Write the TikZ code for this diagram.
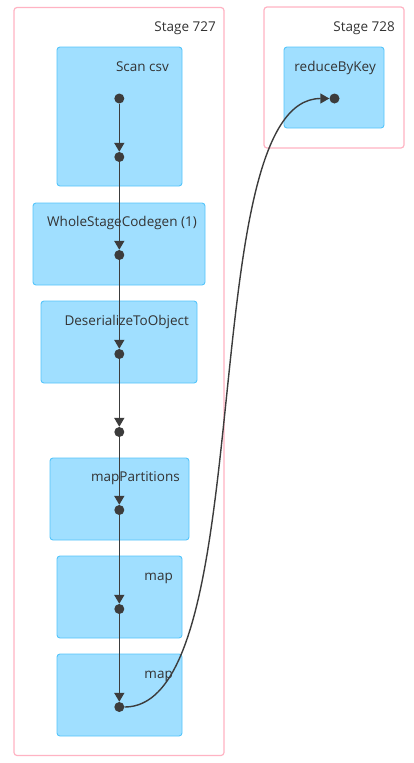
\documentclass[tikz,border=0pt]{standalone}
\usepackage{fontspec}
\setmainfont{Open Sans}
\usepackage{tikz}
\usetikzlibrary{arrows.meta}
\definecolor{stagepink}{HTML}{FFB3C3}
\definecolor{opfill}{HTML}{A0DFFF}
\definecolor{opline}{HTML}{55C5FB}
\definecolor{flowgray}{HTML}{3C3C3C}
\definecolor{labelgray}{HTML}{333333}

\begin{document}
\begin{tikzpicture}[x=1pt, y=-1pt,
    stage/.style={draw=stagepink, line width=1.2pt, rounded corners=3pt, fill=white, inner sep=0pt, outer sep=0pt},
    opbox/.style={draw=opline, fill=opfill, line width=0.9pt, rounded corners=3pt, inner sep=0pt, outer sep=0pt},
    lbl/.style={font=\fontsize{13.5}{15}\selectfont, text=labelgray, inner sep=0pt, anchor=base east},
    pt/.style={circle, fill=flowgray, minimum size=10pt, inner sep=0pt},
    flow/.style={draw=flowgray, line width=1.6pt, -{Triangle[length=9pt, width=10pt]}}
  ]
      \useasboundingbox (0,0) rectangle (413,763);

      % stages
      \node[stage, minimum width=210pt, minimum height=748pt] (stage727) at (119,381.5) {};
      \node[stage, minimum width=140pt, minimum height=141pt] (stage728) at (334,77.5) {};
      \node[lbl] (stage727lbl) at (216,31) {Stage 727};
      \node[lbl] (stage728lbl) at (395,31) {Stage 728};

      % operators
      \node[opbox, minimum width=125pt, minimum height=139pt] (scancsv) at (119.5,116.5) {};
      \node[opbox, minimum width=100pt, minimum height=81pt] (reducebykey) at (334,87.5) {};
      \node[opbox, minimum width=172pt, minimum height=82pt] (wscg) at (119,244) {};
      \node[opbox, minimum width=156pt, minimum height=82pt] (deser) at (119,342) {};
      \node[opbox, minimum width=139pt, minimum height=82pt] (mappart) at (119.5,499) {};
      \node[opbox, minimum width=125pt, minimum height=82pt] (mapa) at (119.5,597) {};
      \node[opbox, minimum width=125pt, minimum height=82pt] (mapb) at (119.5,695) {};

      \node[lbl] (scancsvlbl) at (169,71) {Scan csv};
      \node[lbl] (reducebykeylbl) at (376,71) {reduceByKey};
      \node[lbl] (wscglbl) at (197,226) {WholeStageCodegen (1)};
      \node[lbl] (deserlbl) at (189,325) {DeserializeToObject};
      \node[lbl] (mappartlbl) at (180,481) {mapPartitions};
      \node[lbl] (mapalbl) at (173,580) {map};
      \node[lbl] (mapblbl) at (173,678) {map};

      % points
      \node[pt] (p1) at (119.3,98.5) {};
      \node[pt] (p2) at (119.3,157) {};
      \node[pt] (p3) at (119.3,255) {};
      \node[pt] (p4) at (119.3,354) {};
      \node[pt] (p5) at (119.3,432) {};
      \node[pt] (p6) at (119.3,510) {};
      \node[pt] (p7) at (119.3,609) {};
      \node[pt] (p8) at (119.3,707) {};
      \node[pt] (pr) at (334.5,98.5) {};

      \draw[flow] (p1) -- (p2);
      \draw[flow] (p2) -- (p3);
      \draw[flow] (p3) -- (p4);
      \draw[flow] (p4) -- (p5);
      \draw[flow] (p5) -- (p6);
      \draw[flow] (p6) -- (p7);
      \draw[flow] (p7) -- (p8);
      \draw[flow, line width=1.4pt] (p8) .. controls (262,707) and (192,98.5) .. (pr);
\end{tikzpicture}
\end{document}
